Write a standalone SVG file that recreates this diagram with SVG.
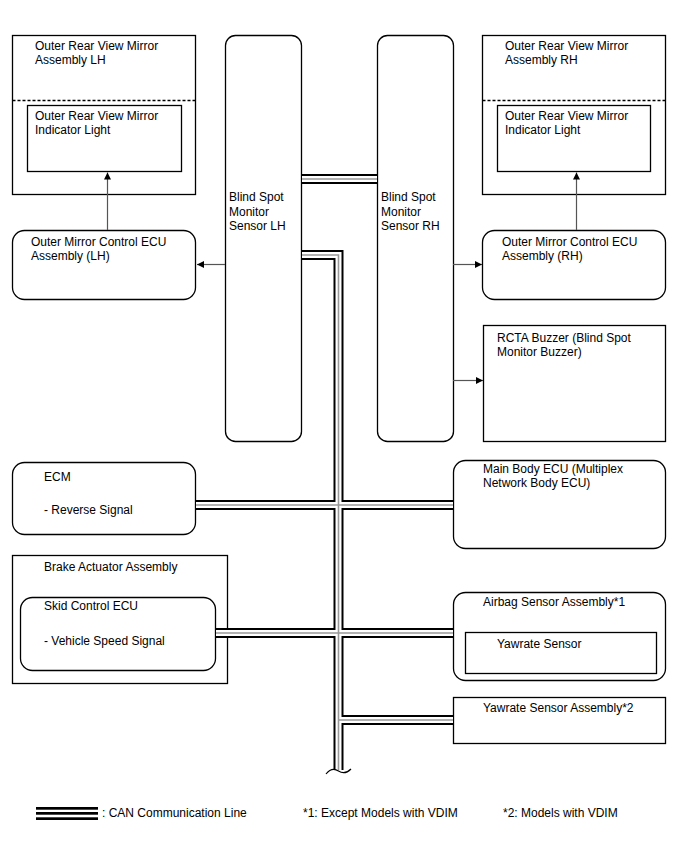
<svg xmlns="http://www.w3.org/2000/svg" width="688" height="852" viewBox="0 0 688 852">
<style>
text{font-family:"Liberation Sans",Arial,sans-serif;font-size:12px;fill:#000}
.box{fill:#fff;stroke:#000;stroke-width:1.3}
.in{fill:none;stroke:#000;stroke-width:1.3}
.arr{fill:none;stroke:#555;stroke-width:1.2;marker-end:url(#ah)}
.canb{fill:none;stroke:#000;stroke-width:10}
.canw{fill:none;stroke:#fff;stroke-width:6}
.cang{fill:none;stroke:#999;stroke-width:1.6}
</style>
<defs>
<marker id="ah" viewBox="0 0 10 10" refX="10" refY="5" markerWidth="9" markerHeight="7" markerUnits="userSpaceOnUse" orient="auto">
<path d="M0,0 L10,5 L0,10 z" fill="#000"/>
</marker>
</defs>
<rect width="688" height="852" fill="#fff"/>

<g id="mirror-lh">
<rect class="box" x="12.5" y="35.5" width="183" height="159"/>
<line x1="12.5" y1="100.5" x2="195.5" y2="100.5" stroke="#000" stroke-width="1.3" stroke-dasharray="3,2"/>
<text x="35" y="50">Outer Rear View Mirror</text>
<text x="35" y="64">Assembly LH</text>
</g>
<g id="indicator-lh">
<rect class="in" x="27.5" y="105.5" width="154" height="66"/>
<text x="35" y="120">Outer Rear View Mirror</text>
<text x="35" y="134">Indicator Light</text>
</g>

<g id="mirror-rh">
<rect class="box" x="482.5" y="35.5" width="183" height="159"/>
<line x1="482.5" y1="100.5" x2="665.5" y2="100.5" stroke="#000" stroke-width="1.3" stroke-dasharray="3,2"/>
<text x="505" y="50">Outer Rear View Mirror</text>
<text x="505" y="64">Assembly RH</text>
</g>
<g id="indicator-rh">
<rect class="in" x="497.5" y="105.5" width="153" height="66"/>
<text x="505" y="120">Outer Rear View Mirror</text>
<text x="505" y="134">Indicator Light</text>
</g>

<g id="ecu-mirror-lh">
<rect class="box" x="12.5" y="230.5" width="183" height="69" rx="12"/>
<text x="31" y="246">Outer Mirror Control ECU</text>
<text x="31" y="260">Assembly (LH)</text>
</g>

<g id="ecu-mirror-rh">
<rect class="box" x="482.5" y="230.5" width="183" height="69" rx="12"/>
<text x="502" y="246">Outer Mirror Control ECU</text>
<text x="502" y="260">Assembly (RH)</text>
</g>

<g id="bsm-lh">
<rect class="box" x="225.5" y="35.5" width="76" height="406" rx="10"/>
<text x="229" y="201">Blind Spot</text>
<text x="229" y="216">Monitor</text>
<text x="229" y="230">Sensor LH</text>
</g>

<g id="bsm-rh">
<rect class="box" x="377.5" y="35.5" width="76" height="406" rx="10"/>
<text x="381" y="201">Blind Spot</text>
<text x="381" y="216">Monitor</text>
<text x="381" y="230">Sensor RH</text>
</g>

<g id="rcta-buzzer">
<rect class="box" x="483.5" y="325.5" width="182" height="116"/>
<text x="497" y="342">RCTA Buzzer (Blind Spot</text>
<text x="497" y="356">Monitor Buzzer)</text>
</g>

<g id="ecm">
<rect class="box" x="12.5" y="462.5" width="183" height="72" rx="12"/>
<text x="44" y="481">ECM</text>
<text x="44" y="514">- Reverse Signal</text>
</g>

<g id="main-body-ecu">
<rect class="box" x="453.5" y="460.5" width="212" height="88" rx="12"/>
<text x="483" y="473">Main Body ECU (Multiplex</text>
<text x="483" y="487">Network Body ECU)</text>
</g>

<g id="brake-actuator">
<rect class="box" x="12.5" y="555.5" width="215" height="128"/>
<text x="44" y="571">Brake Actuator Assembly</text>
</g>
<g id="skid-control-ecu">
<rect class="box" x="20.5" y="597.5" width="195" height="73" rx="12"/>
<text x="44" y="610">Skid Control ECU</text>
<text x="44" y="645">- Vehicle Speed Signal</text>
</g>

<g id="airbag-sensor">
<rect class="box" x="453.5" y="592.5" width="212" height="88" rx="12"/>
<text x="483" y="606">Airbag Sensor Assembly*1</text>
</g>
<g id="yawrate-sensor">
<rect class="in" x="465.5" y="632.5" width="191" height="41"/>
<text x="497" y="648">Yawrate Sensor</text>
</g>

<g id="yawrate-assembly">
<rect class="box" x="453.5" y="697.5" width="212" height="46"/>
<text x="483" y="712">Yawrate Sensor Assembly*2</text>
</g>

<g id="connectors">
<path class="arr" d="M225,264.5 H197"/>
<path class="arr" d="M453,264.5 H482"/>
<path class="arr" d="M453,380.5 H483"/>
<path class="arr" d="M107.5,230 V172.5"/>
<path class="arr" d="M576.5,230 V172.5"/>
<g id="can-bus">
<path class="canb" d="M302,179 H377 M302,255 H338.5 V770 M196,505 H453 M216,633 H453 M338.5,720 H453"/>
<path class="canw" d="M302,179 H377 M302,255 H338.5 V770 M196,505 H453 M216,633 H453 M338.5,720 H453"/>
<path class="cang" d="M302,179 H377 M302,255 H338.5 V770 M196,505 H453 M216,633 H453 M338.5,720 H453"/>
<path d="M326,774 C330,769 334,768 338.5,771 C343,774 347,773 351,769" fill="none" stroke="#000" stroke-width="1.2"/>
</g>
</g>

<g id="legend">
<rect x="36" y="807" width="62" height="2.7" fill="#000"/>
<rect x="36" y="812" width="62" height="2.7" fill="#000"/>
<rect x="36" y="817.3" width="62" height="2.7" fill="#000"/>
<text x="102" y="817">: CAN Communication Line</text>
<text x="303" y="817">*1: Except Models with VDIM</text>
<text x="503" y="817">*2: Models with VDIM</text>
</g>
</svg>
